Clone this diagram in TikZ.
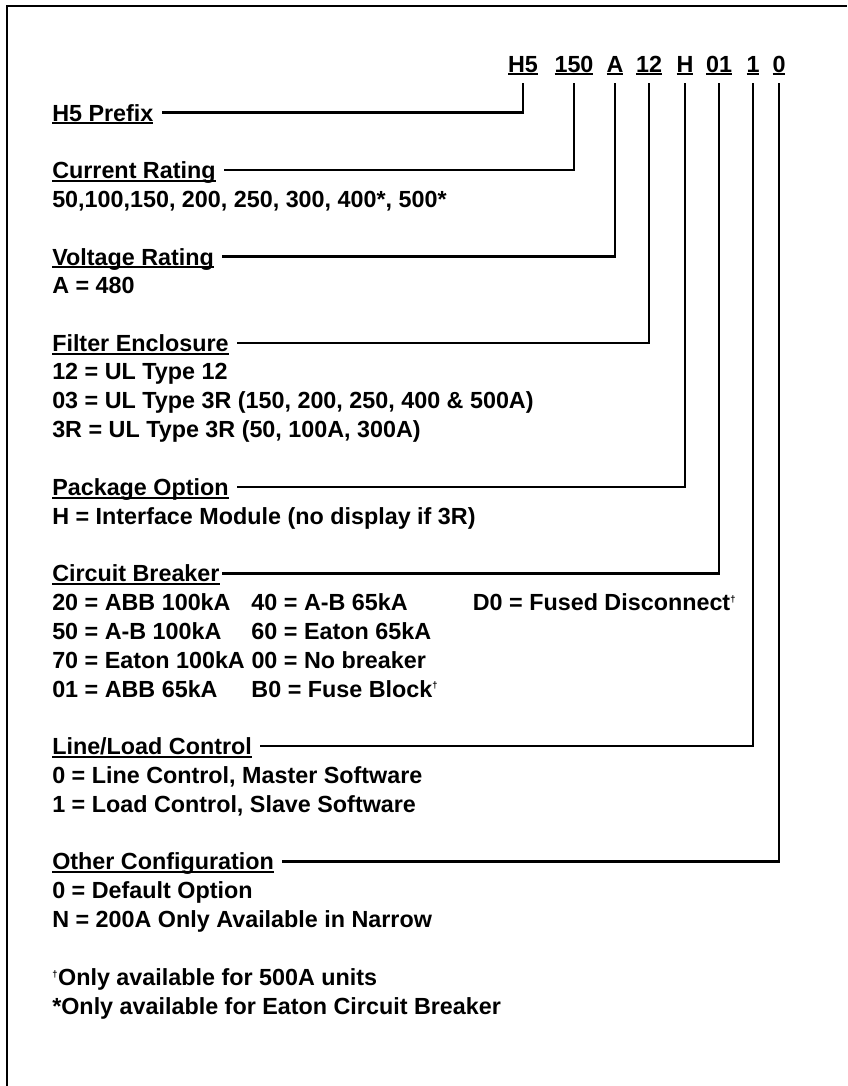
\documentclass[tikz,border=0pt]{standalone}
\usepackage{fontspec}
\setmainfont{Liberation Sans}
\usetikzlibrary{positioning,calc}

\newcommand\labfont{\fontsize{17.5}{21.6}\selectfont\bfseries}
\newcommand\hdul[1]{\setbox0\hbox{#1}\rlap{\rule[-2.4pt]{\wd0}{1.4pt}}\box0}
\newcommand\fnmark{\textsuperscript{\scriptsize †}}

\begin{document}
\begin{tikzpicture}[x=0.75pt,y=-0.75pt,
  code/.style={font=\labfont, inner sep=0pt, anchor=base},
  head/.style={font=\labfont, inner sep=0pt, anchor=base west},
  body/.style={font=\labfont, inner sep=0pt, anchor=north west, align=left},
  lead/.style={line width=2pt},
]
\useasboundingbox (0,0) rectangle (847,1086);
% frame
\draw[line width=1.6pt] (7,1086) -- (7,6) -- (847,6);

% part number
\node[code] (cH5)   at (523,72) {\hdul{H5}};
\node[code] (cAmp)  at (574,72) {\hdul{150}};
\node[code] (cVolt) at (615,72) {\hdul{A}};
\node[code] (cEncl) at (649,72) {\hdul{12}};
\node[code] (cPkg)  at (685,72) {\hdul{H}};
\node[code] (cBrk)  at (719,72) {\hdul{01}};
\node[code] (cCtl)  at (753,72) {\hdul{1}};
\node[code] (cCfg)  at (779,72) {\hdul{0}};

% headings
\node[head] (hPfx)  at (52,121)   {\hdul{H5 Prefix}};
\node[head] (hAmp)  at (52,178.6) {\hdul{Current Rating}};
\node[head] (hVolt) at (52,265)   {\hdul{Voltage Rating}};
\node[head] (hEncl) at (52,351.4) {\hdul{Filter Enclosure}};
\node[head] (hPkg)  at (52,495.4) {\hdul{Package Option}};
\node[head] (hBrk)  at (52,581.8) {\hdul{Circuit Breaker}};
\node[head] (hCtl)  at (52,754.6) {\hdul{Line/Load Control}};
\node[head] (hCfg)  at (52,869.8) {\hdul{Other Configuration}};

% descriptions (top of first line = baseline - 16.8)
\node[body] (bAmp)  at (52,190.6) {50,100,150, 200, 250, 300, 400*, 500*};
\node[body] (bVolt) at (52,277)   {A = 480};
\node[body] (bEncl) at (52,363.4) {12 = UL Type 12\\03 = UL Type 3R (150, 200, 250, 400 \& 500A)\\3R = UL Type 3R (50, 100A, 300A)};
\node[body] (bPkg)  at (52,507.4) {H = Interface Module (no display if 3R)};
\node[body] (bBrk)  at (52,590.4) {\begin{tabular}[t]{@{}l@{\hspace{5pt}}l@{\hspace{26pt}}l@{}}
  20 = ABB 100kA & 40 = A-B 65kA & D0 = Fused Disconnect\fnmark\\
  50 = A-B 100kA & 60 = Eaton 65kA & \\
  70 = Eaton 100kA & 00 = No breaker & \\
  01 = ABB 65kA & B0 = Fuse Block\fnmark &
\end{tabular}};
\node[body] (bCtl)  at (52,766.6) {0 = Line Control, Master Software\\1 = Load Control, Slave Software};
\node[body] (bCfg)  at (52,881.8) {0 = Default Option\\N = 200A Only Available in Narrow};
\node[body] (notes) at (52,968.2) {\fnmark Only available for 500A units\\*Only available for Eaton Circuit Breaker};

% leader lines
\draw[lead] ($(cH5.south)+(0,8)$)   |- ($(hPfx.base east)+(8,-8.5)$);
\draw[lead] ($(cAmp.south)+(0,8)$)  |- ($(hAmp.base east)+(8,-8.5)$);
\draw[lead] ($(cVolt.south)+(0,8)$) |- ($(hVolt.base east)+(8,-8.5)$);
\draw[lead] ($(cEncl.south)+(0,8)$) |- ($(hEncl.base east)+(8,-8.5)$);
\draw[lead] ($(cPkg.south)+(0,8)$)  |- ($(hPkg.base east)+(8,-8.5)$);
\draw[lead] ($(cBrk.south)+(0,8)$)  |- ($(hBrk.base east)+(2,-8.5)$);
\draw[lead] ($(cCtl.south)+(0,8)$)  |- ($(hCtl.base east)+(8,-8.5)$);
\draw[lead] ($(cCfg.south)+(0,8)$)  |- ($(hCfg.base east)+(8,-8.5)$);
\end{tikzpicture}
\end{document}
